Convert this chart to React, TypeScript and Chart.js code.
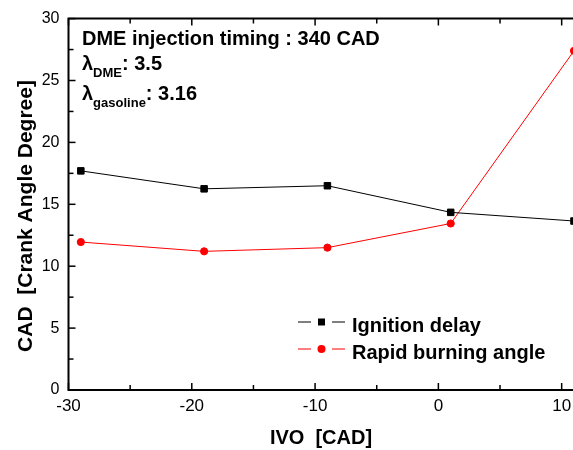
import React, { useEffect, useRef } from "react";
import { Chart, registerables } from "chart.js";

Chart.register(...registerables);

const ivoValues = [-29, -19, -9, 1, 11];
const ignitionDelay = [17.7, 16.25, 16.5, 14.35, 13.65];
const rapidBurningAngle = [11.95, 11.2, 11.5, 13.45, 27.4];
const seriesNames = ["Ignition delay", "Rapid burning angle"];
const seriesColors = ["#000000", "#ff0000"];
const xMajorTicks = [-30, -20, -10, 0, 10];
const xMinorTicks = [-25, -15, -5, 5];
const yMajorTicks = [0, 5, 10, 15, 20, 25, 30];
const yMinorTicks = [2.5, 7.5, 12.5, 17.5, 22.5, 27.5];
const xTitle = "IVO  [CAD]";
const yTitle = "CAD  [Crank Angle Degree]";
const injectionNote = "DME injection timing : 340 CAD";
const lambdaLines = [
  { sub: "DME", value: ": 3.5" },
  { sub: "gasoline", value: ": 3.16" },
];

const FONT = '"Liberation Sans", Arial, Helvetica, sans-serif';

const decorPlugin = {
  id: "decor",
  afterDraw(chart: any) {
    const { ctx, chartArea: a, scales } = chart;
    const xs = scales.x;
    const ys = scales.y;
    ctx.save();
    ctx.strokeStyle = "#000";
    ctx.fillStyle = "#000";

    // frame (left, top, bottom)
    ctx.lineWidth = 2;
    ctx.beginPath();
    ctx.moveTo(chart.width, a.top);
    ctx.lineTo(a.left, a.top);
    ctx.lineTo(a.left, a.bottom);
    ctx.lineTo(chart.width, a.bottom);
    ctx.stroke();

    // inward ticks
    ctx.lineWidth = 1.5;
    const major = 7;
    const minor = 5;
    const xt = (vals: number[], len: number) => {
      vals.forEach((v) => {
        const px = xs.getPixelForValue(v);
        ctx.beginPath();
        ctx.moveTo(px, a.bottom);
        ctx.lineTo(px, a.bottom - len);
        ctx.moveTo(px, a.top);
        ctx.lineTo(px, a.top + len);
        ctx.stroke();
      });
    };
    const yt = (vals: number[], len: number) => {
      vals.forEach((v) => {
        const py = ys.getPixelForValue(v);
        ctx.beginPath();
        ctx.moveTo(a.left, py);
        ctx.lineTo(a.left + len, py);
        ctx.stroke();
      });
    };
    xt(xMajorTicks, major);
    xt(xMinorTicks, minor);
    yt(yMajorTicks, major);
    yt(yMinorTicks, minor);

    // axis titles
    ctx.font = `bold 20px ${FONT}`;
    ctx.textAlign = "center";
    ctx.textBaseline = "alphabetic";
    ctx.fillText(xTitle, 321, 444);
    ctx.save();
    ctx.translate(31.5, 216);
    ctx.rotate(-Math.PI / 2);
    ctx.font = `bold 21px ${FONT}`;
    ctx.fillText(yTitle, 0, 0);
    ctx.restore();

    // annotation
    ctx.textAlign = "left";
    ctx.font = `bold 20px ${FONT}`;
    ctx.fillText(injectionNote, 82, 45);
    const baselines = [70, 100];
    const subOffsets = [7, 6.5];
    lambdaLines.forEach((l, i) => {
      let x = 82;
      const b = baselines[i];
      ctx.font = `bold 20px ${FONT}`;
      ctx.fillText("λ", x, b);
      x += ctx.measureText("λ").width;
      ctx.font = `bold 13px ${FONT}`;
      ctx.fillText(l.sub, x, b + subOffsets[i]);
      x += ctx.measureText(l.sub).width;
      ctx.font = `bold 20px ${FONT}`;
      ctx.fillText(l.value, x, b);
    });

    // legend
    const rows = [322, 349];
    chart.data.datasets.forEach((ds: any, i: number) => {
      const y = rows[i];
      ctx.strokeStyle = ds.borderColor;
      ctx.fillStyle = ds.borderColor;
      ctx.lineWidth = 1;
      ctx.beginPath();
      ctx.moveTo(298, y);
      ctx.lineTo(311, y);
      ctx.moveTo(332, y);
      ctx.lineTo(345, y);
      ctx.stroke();
      ctx.beginPath();
      if (ds.pointStyle === "rect") {
        ctx.rect(318, y - 3.5, 7, 7);
      } else {
        ctx.arc(321.5, y, 4, 0, Math.PI * 2);
      }
      ctx.fill();
      ctx.fillStyle = "#000";
      ctx.font = `bold 20px ${FONT}`;
      ctx.textAlign = "left";
      ctx.fillText(ds.label, 352, y + 9.5);
    });

    ctx.restore();
  },
};

export default function App() {
  const canvasRef = useRef<HTMLCanvasElement | null>(null);

  useEffect(() => {
    if (!canvasRef.current) return;
    const chart = new Chart(canvasRef.current, {
      type: "line",
      data: {
        datasets: [
          {
            label: seriesNames[0],
            data: ivoValues.map((x, i) => ({ x, y: ignitionDelay[i] })),
            borderColor: seriesColors[0],
            backgroundColor: seriesColors[0],
            borderWidth: 1,
            pointStyle: "rect",
            pointRadius: 4.6,
            pointBorderWidth: 1,
            pointBackgroundColor: seriesColors[0],
            pointBorderColor: seriesColors[0],
            clip: false as any,
          },
          {
            label: seriesNames[1],
            data: ivoValues.map((x, i) => ({ x, y: rapidBurningAngle[i] })),
            borderColor: seriesColors[1],
            backgroundColor: seriesColors[1],
            borderWidth: 1,
            pointStyle: "circle",
            pointRadius: 3.6,
            pointBorderWidth: 1,
            pointBackgroundColor: seriesColors[1],
            pointBorderColor: seriesColors[1],
            clip: false as any,
          },
        ],
      },
      options: {
        animation: false,
        responsive: false,
        devicePixelRatio: 1,
        layout: { padding: { left: 8, top: 16, right: 6, bottom: 0 } },
        plugins: { legend: { display: false }, tooltip: { enabled: false } },
        scales: {
          x: {
            type: "linear",
            min: -30,
            max: 11,
            grid: { display: false, drawTicks: false },
            border: { display: false },
            afterFit: (s: any) => {
              s.height = 60;
            },
            ticks: {
              stepSize: 10,
              includeBounds: false,
              maxRotation: 0,
              padding: 6,
              color: "#000",
              font: { family: FONT, size: 17 },
            },
          },
          y: {
            type: "linear",
            min: 0,
            max: 30,
            grid: { display: false, drawTicks: false },
            border: { display: false },
            afterFit: (s: any) => {
              s.width = 60.5;
            },
            ticks: {
              stepSize: 5,
              padding: 9,
              color: "#000",
              font: { family: FONT, size: 16 },
            },
          },
        },
      },
      plugins: [decorPlugin],
    });
    return () => chart.destroy();
  }, []);

  return (
    <div
      style={{
        position: "fixed",
        left: 0,
        top: 0,
        width: 573,
        height: 450,
        overflow: "hidden",
        background: "#fff",
      }}
    >
      <canvas ref={canvasRef} width={580} height={450} style={{ display: "block" }} />
    </div>
  );
}
